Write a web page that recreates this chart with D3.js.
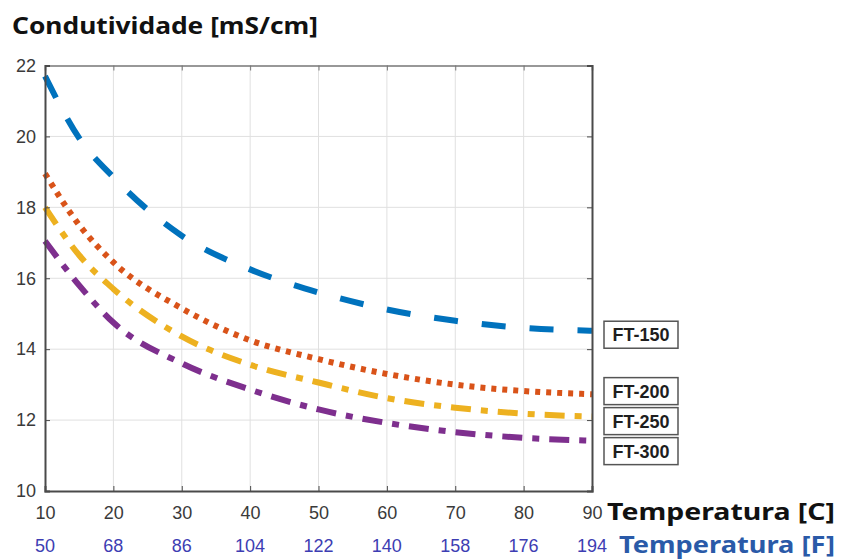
<!DOCTYPE html>
<html>
<head>
<meta charset="utf-8">
<script src="https://cdn.jsdelivr.net/npm/d3@7"></script>
<style>
  html, body { margin: 0; padding: 0; background: #fff; }
  #chart { width: 848px; height: 560px; }
</style>
</head>
<body>
<div id="chart"></div>
<script>
// Temperature in C (x) and matching F labels
const tempC = [10, 15, 20, 30, 40, 50, 60, 70, 80, 90];
const tickC = [10, 20, 30, 40, 50, 60, 70, 80, 90];
const tickF = ['50', '68', '86', '104', '122', '140', '158', '176', '194'];
const tickY = [10, 12, 14, 16, 18, 20, 22];

// Conductivity [mS/cm] per product
const ft150 = [21.7, 19.95, 18.85, 17.2, 16.25, 15.6, 15.12, 14.8, 14.6, 14.52];
const ft200 = [18.95, 17.5, 16.45, 15.15, 14.25, 13.72, 13.3, 13.0, 12.82, 12.73];
const ft250 = [18.0, 16.65, 15.7, 14.36, 13.56, 13.06, 12.62, 12.35, 12.18, 12.1];
const ft300 = [17.05, 15.8, 14.75, 13.6, 12.86, 12.3, 11.92, 11.66, 11.5, 11.42];

const seriesNames = ['FT-150', 'FT-200', 'FT-250', 'FT-300'];

const series = [
  { name: seriesNames[0], values: ft150, color: '#0072BD', dash: '24,24' },
  { name: seriesNames[1], values: ft200, color: '#D95319', dash: '5,6' },
  { name: seriesNames[2], values: ft250, color: '#EDB120', dash: '20,10,7,10' },
  { name: seriesNames[3], values: ft300, color: '#7E2F8E', dash: '20,10,7,10' }
];

const svg = d3.select('#chart').append('svg')
  .attr('width', 848).attr('height', 560);

const x0 = 45, x1 = 592, y0 = 491, y1 = 65.5;
const x = d3.scaleLinear().domain([10, 90]).range([x0, x1]);
const y = d3.scaleLinear().domain([10, 22]).range([y0, y1]);

// Title
svg.append('text')
  .attr('x', 12).attr('y', 34)
  .attr('font-family', '"Noto Sans", "Open Sans", sans-serif')
  .attr('font-weight', 700).attr('font-size', 24)
  .attr('textLength', 306).attr('lengthAdjust', 'spacingAndGlyphs')
  .attr('fill', '#111').text('Condutividade [mS/cm]');

// Grid
const grid = svg.append('g');
grid.selectAll('.gx').data(tickC.slice(1, -1)).join('line')
  .attr('x1', d => x(d)).attr('x2', d => x(d))
  .attr('y1', y1).attr('y2', y0)
  .attr('stroke', '#e0e0e0').attr('stroke-width', 1);
grid.selectAll('.gy').data(tickY.slice(1, -1)).join('line')
  .attr('y1', d => y(d)).attr('y2', d => y(d))
  .attr('x1', x0).attr('x2', x1)
  .attr('stroke', '#e0e0e0').attr('stroke-width', 1);

// Lines
const line = d3.line()
  .x((d, i) => x(tempC[i]))
  .y(d => y(d))
  .curve(d3.curveMonotoneX);

svg.append('g').selectAll('path').data(series).join('path')
  .attr('d', d => line(d.values))
  .attr('fill', 'none')
  .attr('stroke', d => d.color)
  .attr('stroke-width', 6)
  .attr('stroke-dasharray', d => d.dash);

// Axes box (MATLAB style, inward ticks)
const axisCol = '#4a4a4a';
const fontAx = '"Liberation Sans", Arial, sans-serif';

svg.append('g').attr('transform', `translate(0,${y0})`)
  .call(d3.axisBottom(x).tickValues(tickC).tickSize(-5).tickFormat(d => d).tickPadding(15))
  .call(ax => ax.select('.domain').attr('stroke', axisCol).attr('stroke-width', 2))
  .call(ax => ax.selectAll('line').attr('stroke', axisCol))
  .call(ax => ax.selectAll('text').attr('fill', '#3a3a3a').attr('font-size', 18).attr('font-family', fontAx));

svg.append('g').attr('transform', `translate(0,${y1})`)
  .call(d3.axisTop(x).tickValues(tickC).tickSize(-5).tickFormat(''))
  .call(ax => ax.select('.domain').attr('stroke', '#777').attr('stroke-width', 1.5))
  .call(ax => ax.selectAll('line').attr('stroke', '#777'));

svg.append('g').attr('transform', `translate(${x0},0)`)
  .call(d3.axisLeft(y).tickValues(tickY).tickSize(-5).tickPadding(9))
  .call(ax => ax.select('.domain').attr('stroke', axisCol).attr('stroke-width', 2))
  .call(ax => ax.selectAll('line').attr('stroke', axisCol))
  .call(ax => ax.selectAll('text').attr('fill', '#3a3a3a').attr('font-size', 18).attr('font-family', fontAx));

svg.append('g').attr('transform', `translate(${x1},0)`)
  .call(d3.axisRight(y).tickValues(tickY).tickSize(-5).tickFormat(''))
  .call(ax => ax.select('.domain').attr('stroke', axisCol).attr('stroke-width', 2))
  .call(ax => ax.selectAll('line').attr('stroke', axisCol));

// Fahrenheit row
svg.append('g').selectAll('text').data(tickC).join('text')
  .attr('x', d => x(d)).attr('y', 552)
  .attr('text-anchor', 'middle')
  .attr('font-family', fontAx).attr('font-size', 18)
  .attr('fill', '#3d3db3')
  .text((d, i) => tickF[i]);

// Axis titles
const fontT = '"Noto Sans", "Open Sans", sans-serif';
svg.append('text').attr('x', 835).attr('y', 520)
  .attr('text-anchor', 'end')
  .attr('font-family', fontT).attr('font-weight', 700).attr('font-size', 24)
  .attr('textLength', 228).attr('lengthAdjust', 'spacingAndGlyphs')
  .attr('fill', '#111').text('Temperatura [C]');
svg.append('text').attr('x', 835).attr('y', 553)
  .attr('text-anchor', 'end')
  .attr('font-family', fontT).attr('font-weight', 700).attr('font-size', 24)
  .attr('textLength', 216).attr('lengthAdjust', 'spacingAndGlyphs')
  .attr('fill', '#2a5aa8').text('Temperatura [F]');

// End labels, spread so boxes do not overlap
const boxH = 27, gap = 3;
const labels = series.map(s => ({ name: s.name, cy: y(s.values[s.values.length - 1]) + 4 }));
labels.sort((a, b) => a.cy - b.cy);
for (let it = 0; it < 60; it++) {
  for (let i = 1; i < labels.length; i++) {
    const d = labels[i].cy - labels[i - 1].cy - (boxH + gap);
    if (d < 0) { labels[i].cy -= d / 2; labels[i - 1].cy += d / 2; }
  }
}

const lg = svg.append('g').selectAll('g').data(labels).join('g')
  .attr('transform', d => `translate(604,${d.cy - boxH / 2})`);
lg.append('rect')
  .attr('width', 74).attr('height', boxH)
  .attr('fill', '#fff').attr('stroke', '#555').attr('stroke-width', 1.5);
lg.append('text')
  .attr('x', 37).attr('y', boxH / 2 + 6.5)
  .attr('text-anchor', 'middle')
  .attr('font-family', fontAx).attr('font-weight', 700).attr('font-size', 18)
  .attr('fill', '#1e1e1e').text(d => d.name);
</script>
</body>
</html>
